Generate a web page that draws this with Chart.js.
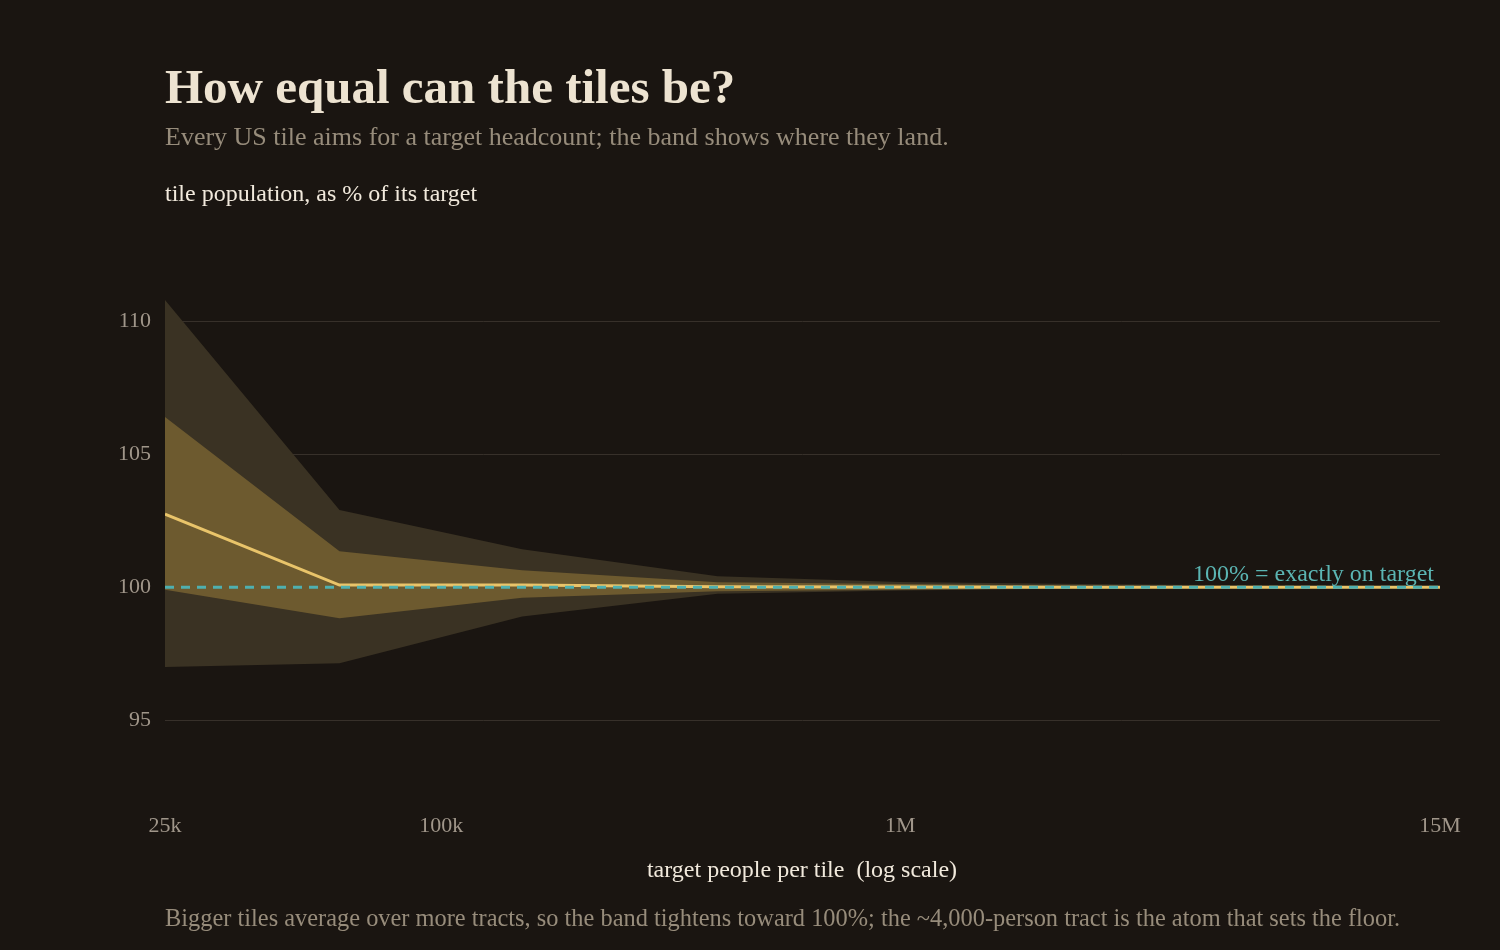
<!DOCTYPE html>
<html>
<head>
<meta charset="utf-8">
<script src="https://cdn.jsdelivr.net/npm/chart.js@4"></script>
<style>
  body { margin: 0; background: #1a1511; }
  #wrap { position: relative; width: 1500px; height: 950px; background: #1a1511; font-family: Georgia, "Liberation Serif", serif; }
  #wrap canvas { position: absolute; left: 0; top: 0; }
  .txt { position: absolute; line-height: 1; white-space: nowrap; }
  #title { left: 165px; top: 62px; font-size: 49px; font-weight: bold; color: #ede3d1; }
  #subtitle { left: 165px; top: 124px; font-size: 26px; color: #978c7b; }
  #ycap { left: 165px; top: 181px; font-size: 24px; color: #f1e9dc; }
  #xcap { left: 0; width: 1604px; text-align: center; top: 857px; font-size: 24px; color: #f1e9dc; }
  #foot { left: 165px; top: 906px; font-size: 24.4px; color: #978c7b; }
</style>
</head>
<body>
<div id="wrap">
  <canvas id="chart" width="1500" height="950"></canvas>
  <div class="txt" id="title">How equal can the tiles be?</div>
  <div class="txt" id="subtitle">Every US tile aims for a target headcount; the band shows where they land.</div>
  <div class="txt" id="ycap">tile population, as % of its target</div>
  <div class="txt" id="xcap">target people per tile&nbsp; (log scale)</div>
  <div class="txt" id="foot">Bigger tiles average over more tracts, so the band tightens toward 100%; the ~4,000-person tract is the atom that sets the floor.</div>
</div>
<script>
// target headcount per tile (x, log scale)
const targets = [25000, 60000, 150000, 400000, 1000000, 2500000, 6000000, 15000000];
// tile population as % of target
const meanPct  = [102.75, 100.08, 100.08, 100.02, 100.01, 100.0, 100.0, 100.0];
const innerHi  = [106.4, 101.35, 100.64, 100.19, 100.12, 100.05, 100.03, 100.01];
const innerLo  = [99.9, 98.83, 99.6, 99.85, 99.9, 99.96, 99.98, 99.99];
const outerHi  = [110.8, 102.9, 101.43, 100.41, 100.2, 100.12, 100.06, 100.03];
const outerLo  = [97.0, 97.14, 98.9, 99.75, 99.88, 99.95, 99.98, 99.99];
const targetLine = [100, 100];
const xTicks = [25000, 100000, 1000000, 15000000];
const xTickLabels = ['25k', '100k', '1M', '15M'];
const yTicks = [95, 100, 105, 110];

const FONT = 'Georgia, "Liberation Serif", serif';

function pts(vals) {
    return vals.map((v, i) => ({ x: targets[i], y: v }));
}

// teal label above the 100% line
const targetLabel = {
    id: 'targetLabel',
    afterDatasetsDraw(chart) {
        const c = chart.ctx;
        const area = chart.chartArea;
        const y = chart.scales.y.getPixelForValue(100);
        c.save();
        c.font = '24px ' + FONT;
        c.fillStyle = '#5bb5b3';
        c.textAlign = 'right';
        c.textBaseline = 'alphabetic';
        c.fillText('100% = exactly on target', area.right - 6, y - 6);
        c.restore();
    }
};

new Chart(document.getElementById('chart'), {
    type: 'line',
    data: {
        datasets: [
            {
                label: 'target',
                data: [{ x: targets[0], y: targetLine[0] }, { x: targets[targets.length - 1], y: targetLine[1] }],
                borderColor: '#4fb0b0',
                borderWidth: 3,
                borderDash: [9, 7],
                pointRadius: 0,
                fill: false
            },
            {
                label: 'mean',
                data: pts(meanPct),
                borderColor: '#e9c46a',
                borderWidth: 3,
                pointRadius: 0,
                fill: false
            },
            {
                label: 'inner hi',
                data: pts(innerHi),
                borderWidth: 0,
                borderColor: 'rgba(0,0,0,0)',
                backgroundColor: '#6d5a2f',
                pointRadius: 0,
                fill: '+1'
            },
            {
                label: 'inner lo',
                data: pts(innerLo),
                borderWidth: 0,
                borderColor: 'rgba(0,0,0,0)',
                pointRadius: 0,
                fill: false
            },
            {
                label: 'outer hi',
                data: pts(outerHi),
                borderWidth: 0,
                borderColor: 'rgba(0,0,0,0)',
                backgroundColor: '#3a3223',
                pointRadius: 0,
                fill: '+1'
            },
            {
                label: 'outer lo',
                data: pts(outerLo),
                borderWidth: 0,
                borderColor: 'rgba(0,0,0,0)',
                pointRadius: 0,
                fill: false
            }
        ]
    },
    options: {
        responsive: false,
        animation: false,
        layout: { padding: { left: 0, right: 60, top: 268, bottom: 0 } },
        plugins: {
            legend: { display: false },
            tooltip: { enabled: false }
        },
        scales: {
            x: {
                type: 'logarithmic',
                min: 25000,
                max: 15000000,
                grid: { display: false, drawTicks: false },
                border: { display: false },
                afterBuildTicks: (s) => { s.ticks = xTicks.map(v => ({ value: v })); },
                afterFit: (s) => { s.height = 150; },
                ticks: {
                    color: '#a0968a',
                    font: { family: FONT, size: 22 },
                    padding: 13,
                    maxRotation: 0,
                    autoSkip: false,
                    callback: (v) => xTickLabels[xTicks.indexOf(v)] ?? ''
                }
            },
            y: {
                min: 92,
                max: 112,
                grid: { color: '#37302a', lineWidth: 1, drawTicks: false },
                border: { display: false },
                afterBuildTicks: (s) => { s.ticks = yTicks.map(v => ({ value: v })); },
                afterFit: (s) => { s.width = 165; },
                ticks: {
                    color: '#a0968a',
                    font: { family: FONT, size: 22 },
                    padding: 14
                }
            }
        }
    },
    plugins: [targetLabel]
});
</script>
</body>
</html>
